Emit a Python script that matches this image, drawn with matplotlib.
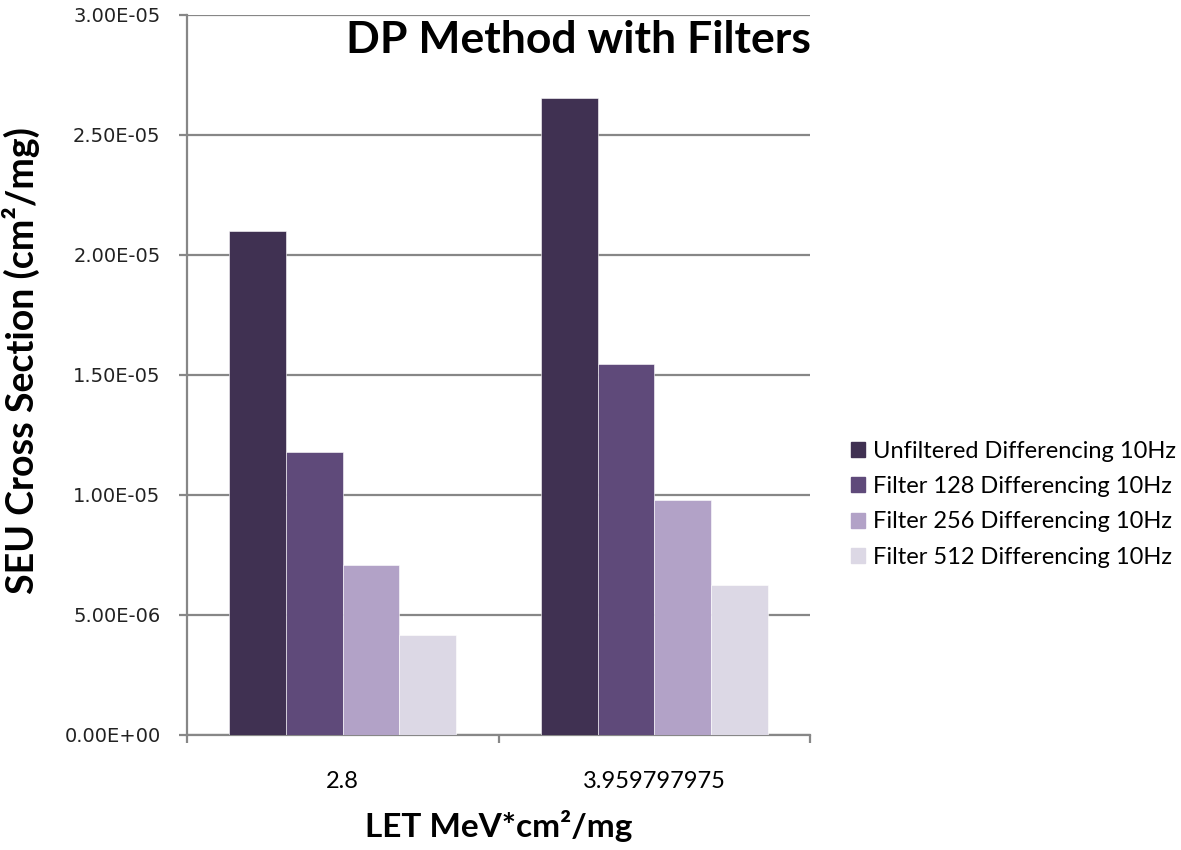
import numpy as np
import matplotlib
matplotlib.use("Agg")
import matplotlib.pyplot as plt
from matplotlib.patches import Patch

# data
categories = ["2.8", "3.959797975"]
series_names = ["Unfiltered Differencing 10Hz", "Filter 128 Differencing 10Hz",
                "Filter 256 Differencing 10Hz", "Filter 512 Differencing 10Hz"]
unfiltered = [2.10e-05, 2.655e-05]
filter128 = [1.18e-05, 1.545e-05]
filter256 = [7.08e-06, 9.78e-06]
filter512 = [4.17e-06, 6.26e-06]
yticks = [0, 5e-06, 1e-05, 1.5e-05, 2e-05, 2.5e-05, 3e-05]
ytick_labels = ["0.00E+00", "5.00E-06", "1.00E-05", "1.50E-05", "2.00E-05", "2.50E-05", "3.00E-05"]

colors = ["#403152", "#5f4a7a", "#b2a2c7", "#dcd8e5"]
grid_col = "#878787"

plt.rcParams['font.family'] = ['Lato', 'DejaVu Sans']

fig = plt.figure(figsize=(11.81, 8.5), dpi=100)
ax = fig.add_axes([187/1181, 1-735/850, (810-187)/1181, (735-15)/850])

x = np.arange(len(categories))
w = 1/5.5
allvals = [unfiltered, filter128, filter256, filter512]
for i, vals in enumerate(allvals):
    ax.bar(x + (i-1.5)*w, vals, width=w, color=colors[i],
           edgecolor="#ffffff", linewidth=0.4, zorder=3)

ax.set_xlim(-0.5, 1.5)
ax.set_ylim(0, 3e-05)
ax.set_yticks(yticks)
ax.set_yticklabels(ytick_labels)
for lbl in ax.get_yticklabels():
    lbl.set_fontfamily("DejaVu Sans")
    lbl.set_fontsize(14)
    lbl.set_color("#222222")
ax.tick_params(axis="y", length=6, color=grid_col, width=1.6, pad=13)
ax.yaxis.grid(True, color=grid_col, linewidth=1.6, zorder=0)
ax.set_axisbelow(True)

# ticks sit on the category boundaries, names go in the middle
ax.set_xticks([-0.5, 0.5, 1.5])
ax.set_xticklabels([])
ax.tick_params(axis="x", length=6, color=grid_col, width=1.6)
for xi, name in zip(x, categories):
    ax.text(xi, -0.065, name, transform=ax.get_xaxis_transform(),
            ha="center", va="center", fontsize=17)

for s in ["top", "right"]:
    ax.spines[s].set_visible(False)
for s in ["left", "bottom"]:
    ax.spines[s].set_color(grid_col)
    ax.spines[s].set_linewidth(1.6)

ax.set_ylabel("SEU Cross Section (cm²/mg)", fontsize=27, fontweight="bold")
ax.yaxis.set_label_coords((40-187)/623, 0.52)
ax.set_xlabel("LET MeV*cm²/mg", fontsize=24, fontweight="bold")
ax.xaxis.set_label_coords(0.5, (735-810)/720)

fig.text(578/1181, 1-53/850, "DP Method with Filters", fontsize=32, fontweight="bold",
         ha="center", va="baseline")

handles = [Patch(color=c) for c in colors]
fig.legend(handles, series_names, loc="upper left", bbox_to_anchor=(851/1181, 1-441/850),
           frameon=False, fontsize=17, handlelength=0.6, handleheight=0.6,
           handletextpad=0.35, labelspacing=0.6, borderaxespad=0, borderpad=0)

fig.savefig("out.png", dpi=100)
